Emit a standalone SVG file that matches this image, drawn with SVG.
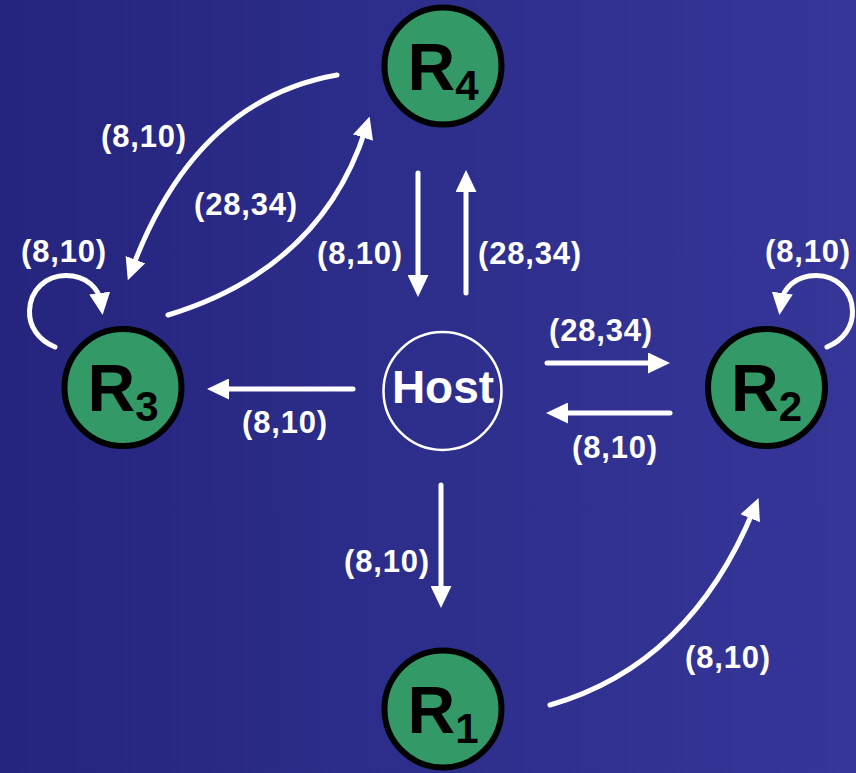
<svg xmlns="http://www.w3.org/2000/svg" width="856" height="773" viewBox="0 0 856 773">
<defs>
<linearGradient id="bg" x1="0" y1="0" x2="1" y2="0">
<stop offset="0" stop-color="#25257f"/>
<stop offset="1" stop-color="#363699"/>
</linearGradient>
<marker id="ah" markerUnits="userSpaceOnUse" viewBox="0 0 22 21" refX="10" refY="10.5" markerWidth="22" markerHeight="21" orient="auto">
<path d="M0,0 L22,10.5 L0,21 z" fill="#ffffff"/>
</marker>
<style>
.node circle{fill:#339966;stroke:#000;stroke-width:6}
.host circle{fill:none;stroke:#fff;stroke-width:2.5}
.big{font-family:"Liberation Sans",Arial,sans-serif;font-weight:bold;fill:#000;font-size:66px}
.sub{font-size:42px}
.hostt{font-family:"Liberation Sans",Arial,sans-serif;font-weight:bold;fill:#fff;font-size:46px}
.lbl{font-family:"Liberation Sans",Arial,sans-serif;font-weight:bold;fill:#fff;font-size:31px;letter-spacing:0.8px;text-anchor:middle}
#edges path{fill:none;stroke:#fff;stroke-width:5;stroke-linecap:round;marker-end:url(#ah)}
</style>
</defs>
<rect width="856" height="773" fill="url(#bg)"/>
<g id="edges">
<path d="M466,293 L466,182"/>
<path d="M418,173 L418,285"/>
<path d="M353,389 L219,389"/>
<path d="M547,363 L658,363"/>
<path d="M670,413 L558,413"/>
<path d="M441,485 L441,596"/>
<path d="M337,75 Q195,100 132,269"/>
<path d="M168,315 Q322,268 366,128"/>
<path d="M550,705 Q690,665 754,509"/>
<path d="M55,347 C38,340 29,326 29.5,311 C30,290 46,275.5 66,275.5 C86,275.5 99,288 101,303"/>
<path d="M827,347 C844,340 853,326 852.5,311 C852,290 836,275.5 816,275.5 C796,275.5 783,288 781,303"/>
</g>
<g id="labels">
<text class="lbl" x="144" y="147">(8,10)</text>
<text class="lbl" x="246" y="215">(28,34)</text>
<text class="lbl" x="64" y="262">(8,10)</text>
<text class="lbl" x="360" y="264">(8,10)</text>
<text class="lbl" x="530" y="264">(28,34)</text>
<text class="lbl" x="808" y="262">(8,10)</text>
<text class="lbl" x="601" y="341">(28,34)</text>
<text class="lbl" x="285" y="433">(8,10)</text>
<text class="lbl" x="615" y="458">(8,10)</text>
<text class="lbl" x="387" y="572">(8,10)</text>
<text class="lbl" x="728" y="668">(8,10)</text>
</g>
<g id="R4" class="node">
<circle cx="443" cy="66" r="58.5"/>
<text class="big" x="443" y="90" text-anchor="middle">R<tspan class="sub" dy="10">4</tspan></text>
</g>
<g id="R3" class="node">
<circle cx="123" cy="387.5" r="58.5"/>
<text class="big" x="123" y="411" text-anchor="middle">R<tspan class="sub" dy="10">3</tspan></text>
</g>
<g id="R2" class="node">
<circle cx="766.5" cy="387.5" r="58.5"/>
<text class="big" x="766.5" y="411" text-anchor="middle">R<tspan class="sub" dy="10">2</tspan></text>
</g>
<g id="R1" class="node">
<circle cx="443" cy="709" r="58.5"/>
<text class="big" x="443" y="733" text-anchor="middle">R<tspan class="sub" dy="10">1</tspan></text>
</g>
<g id="Host" class="host">
<circle cx="442.5" cy="391" r="59"/>
<text class="hostt" x="443" y="403" text-anchor="middle">Host</text>
</g>
</svg>
